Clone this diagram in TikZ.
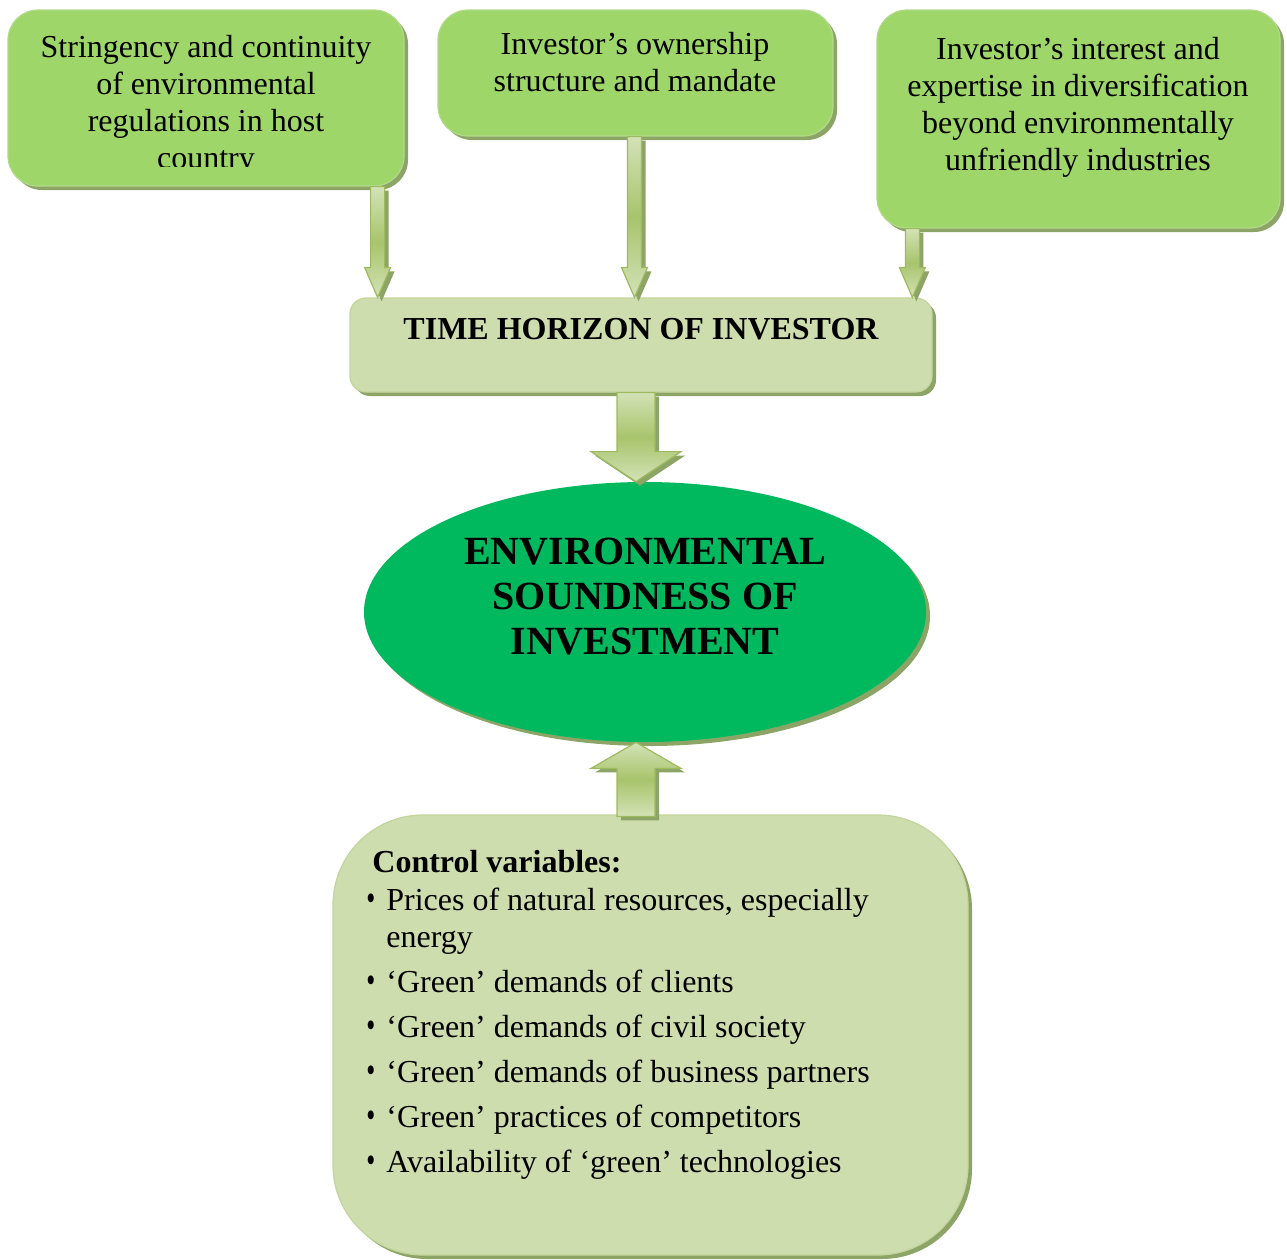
\documentclass[tikz,border=0pt]{standalone}
\usepackage{fontspec}
\usepackage{graphicx}
\setmainfont{Liberation Serif}
\usetikzlibrary{shapes.geometric,shadows,calc}
\definecolor{boxgreen}{HTML}{9FD66A}
\definecolor{boxedge}{HTML}{B2D98A}
\definecolor{sage}{HTML}{CEDDAD}
\definecolor{sageedge}{HTML}{C3D49C}
\definecolor{shadowc}{HTML}{8CA566}
\definecolor{ellgreen}{HTML}{00B95F}
\definecolor{arrlight}{HTML}{D3E2B6}
\definecolor{arrdark}{HTML}{A8C46C}
\definecolor{arredge}{HTML}{9DBB5E}
\tikzset{
 solidshadow/.style={drop shadow={shadow xshift=2pt, shadow yshift=-2pt, fill=shadowc, opacity=1}},
 topbox/.style={draw=boxedge, line width=0.6pt, fill=boxgreen, rounded corners=15pt, solidshadow, inner sep=0pt},
 sagebox/.style={draw=sageedge, line width=0.6pt, fill=sage, solidshadow, inner sep=0pt},
 boxtext/.style={align=center, font=\fontsize{16}{18.5}\selectfont, inner sep=0pt},
 fatarrow/.style={draw=arredge, line width=0.6pt, top color=arrlight, bottom color=arrlight, middle color=arrdark, solidshadow},
}
\newcommand\fatdown[5]{\path[fatarrow] let \p1=(#1), \p2=(#2) in (\x1-#3,\y1) -- (\x1-#3,\y2+#5) -- (\x1-#4,\y2+#5) -- (\x1,\y2) -- (\x1+#4,\y2+#5) -- (\x1+#3,\y2+#5) -- (\x1+#3,\y1) -- cycle;}
\newcommand\fatup[5]{\path[fatarrow] let \p1=(#1), \p2=(#2) in (\x1-#3,\y1) -- (\x1-#3,\y2-#5) -- (\x1-#4,\y2-#5) -- (\x1,\y2) -- (\x1+#4,\y2-#5) -- (\x1+#3,\y2-#5) -- (\x1+#3,\y1) -- cycle;}
\newcommand\bul{\makebox[10pt][l]{\raisebox{0.3pt}{\scalebox{0.8}[1.15]{\textbullet}}}}
\begin{document}
\begin{tikzpicture}[x=0.5pt,y=-0.5pt]
\useasboundingbox (0,0) rectangle (1287,1260);
% top boxes
\node[topbox, minimum width=198pt, minimum height=88pt] (b1) at (206,98) {};
\begin{scope}
\clip (b1.north west) rectangle ($(b1.south east)+(0,-20)$);
\node[boxtext] (t1) at (206,105) {Stringency and continuity\\of environmental\\regulations in host\\country};
\end{scope}
\node[topbox, minimum width=197.5pt, minimum height=63pt] (b2) at (635.5,73) {};
\node[boxtext] (t2) at (635,62) {Investor’s ownership\\structure and mandate};
\node[topbox, minimum width=201.5pt, minimum height=109pt] (b3) at (1078.5,119) {};
\node[boxtext] (t3) at (1078,107) {Investor’s interest and\\expertise in diversification\\beyond environmentally\\unfriendly industries};
% time horizon
\node[sagebox, rounded corners=8pt, minimum width=291pt, minimum height=47pt] (th) at (641,345) {};
\node[boxtext, font=\fontsize{16}{18.5}\selectfont\bfseries] (tht) at (641,329) {TIME HORIZON OF INVESTOR};
% ellipse
\node[ellipse, fill=ellgreen, solidshadow, minimum width=281pt, minimum height=130pt, inner sep=0pt] (el) at (645,612) {};
\node[boxtext, font=\fontsize{20}{22.5}\selectfont\bfseries] (elt) at (645,597) {ENVIRONMENTAL\\SOUNDNESS OF\\INVESTMENT};
% control variables
\node[sagebox, rounded corners=45pt, minimum width=317.5pt, minimum height=220pt] (cv) at (650.5,1035) {};
\node[anchor=north west, align=left, inner sep=0pt, font=\fontsize{16}{18.5}\selectfont] (cvt) at (366,850) {%
\hspace*{3pt}\textbf{Control variables:}\\[0.5pt]
\bul Prices of natural resources, especially\\
\hspace*{10pt}energy\\[4pt]
\bul ‘Green’ demands of clients\\[4pt]
\bul ‘Green’ demands of civil society\\[4pt]
\bul ‘Green’ demands of business partners\\[4pt]
\bul ‘Green’ practices of competitors\\[4pt]
\bul Availability of ‘green’ technologies};
% arrows
\coordinate (a1s) at ($(b1.south east)+(-27,0)$);
\coordinate (a1e) at (a1s |- th.north);
\fatdown{a1s}{a1e}{3.5pt}{6.5pt}{15pt}
\coordinate (a2s) at ($(b2.south)+(-1,0)$);
\coordinate (a2e) at (a2s |- th.north);
\fatdown{a2s}{a2e}{3.5pt}{6.5pt}{15pt}
\coordinate (a3s) at ($(b3.south west)+(36,0)$);
\coordinate (a3e) at (a3s |- th.north);
\fatdown{a3s}{a3e}{3.5pt}{6.5pt}{15pt}
\coordinate (a4s) at ($(th.south)+(-5,0)$);
\coordinate (a4e) at (a4s |- el.north);
\fatdown{a4s}{a4e}{9.5pt}{22.5pt}{15pt}
\coordinate (a5s) at ($(cv.north)+(-14.5,2)$);
\coordinate (a5e) at (a5s |- el.south);
\fatup{a5s}{a5e}{9.5pt}{22.5pt}{13pt}
\end{tikzpicture}
\end{document}
